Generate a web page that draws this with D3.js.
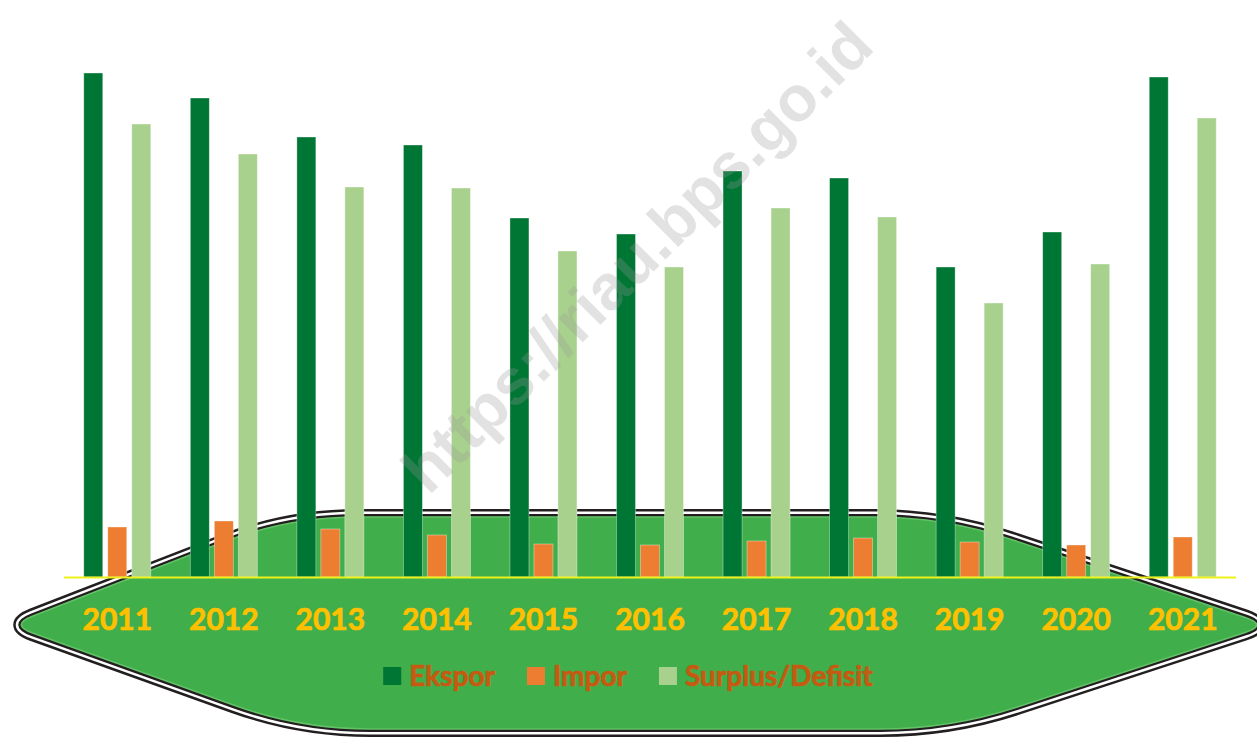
<!DOCTYPE html>
<html>
<head>
<meta charset="utf-8">
<script src="https://cdn.jsdelivr.net/npm/d3@7"></script>
<style>
  html, body { margin: 0; padding: 0; background: #ffffff; }
  svg { display: block; }
</style>
</head>
<body>
<svg id="chart" width="1257" height="738"></svg>
<script>
// ---- data ----
const years   = ["2011","2012","2013","2014","2015","2016","2017","2018","2019","2020","2021"];
const ekspor  = [20.16, 19.16, 17.60, 17.28, 14.36, 13.72, 16.24, 15.96, 12.40, 13.80, 20.00];
const impor   = [2.00, 2.24, 1.92, 1.68, 1.32, 1.28, 1.44, 1.56, 1.40, 1.28, 1.60];
const surplus = [18.12, 16.92, 15.60, 15.56, 13.04, 12.40, 14.76, 14.40, 10.96, 12.52, 18.36];
const seriesNames = ["Ekspor", "Impor", "Surplus/Defisit"];

const W = 1257, H = 738;
const svg = d3.select("#chart");

const colors = d3.scaleOrdinal().domain(seriesNames).range(["#007635", "#ED7D31", "#A9D18E"]);

// ---- decorative background plate (rounded elongated hexagon) ----
function roundedPolygon(pts, radii) {
  const n = pts.length;
  const path = d3.path();
  const cut = (a, b, r) => {
    const dx = b[0] - a[0], dy = b[1] - a[1];
    const len = Math.hypot(dx, dy);
    return [a[0] + dx / len * r, a[1] + dy / len * r];
  };
  for (let i = 0; i < n; i++) {
    const p = pts[i], prev = pts[(i - 1 + n) % n], next = pts[(i + 1) % n];
    const r = radii[i];
    const a = cut(p, prev, r), b = cut(p, next, r);
    if (i === 0) path.moveTo(a[0], a[1]); else path.lineTo(a[0], a[1]);
    path.quadraticCurveTo(p[0], p[1], b[0], b[1]);
  }
  path.closePath();
  return path.toString();
}
const plate = [[10, 625], [288, 517], [944, 517], [1268, 625], [950, 729], [300, 729]];
const plateR = [24, 70, 70, 24, 70, 70];
const plateD = roundedPolygon(plate, plateR);
const bg = svg.append("g").attr("class", "plate");
bg.append("path").attr("d", plateD).attr("fill", "none").attr("stroke", "#231f20").attr("stroke-width", 16).attr("stroke-linejoin", "round");
bg.append("path").attr("d", plateD).attr("fill", "none").attr("stroke", "#ffffff").attr("stroke-width", 11).attr("stroke-linejoin", "round");
bg.append("path").attr("d", plateD).attr("fill", "none").attr("stroke", "#231f20").attr("stroke-width", 6).attr("stroke-linejoin", "round");
bg.append("path").attr("d", plateD).attr("fill", "#40AE4A").attr("stroke", "#62c266").attr("stroke-width", 1.6);

// ---- scales ----
const x0 = d3.scaleBand().domain(years).range([64, 1236]).padding(0);
const bw = x0.bandwidth();
const x1 = d3.scaleBand().domain(seriesNames).range([bw / 2 - 33.5, bw / 2 + 33.5]).paddingInner(5 / 24).paddingOuter(0);
const y = d3.scaleLinear().domain([0, 20]).range([577, 77]);

const table = years.map((yr, i) => ({
  year: yr,
  values: [
    { key: "Ekspor", value: ekspor[i] },
    { key: "Impor", value: impor[i] },
    { key: "Surplus/Defisit", value: surplus[i] }
  ]
}));

// ---- bars ----
const groups = svg.append("g").attr("class", "bars")
  .selectAll("g").data(table).join("g")
  .attr("transform", d => `translate(${x0(d.year)},0)`);

groups.selectAll("rect").data(d => d.values).join("rect")
  .attr("x", d => x1(d.key))
  .attr("width", x1.bandwidth())
  .attr("y", d => y(d.value))
  .attr("height", d => y(0) - y(d.value))
  .attr("fill", d => colors(d.key))
  .attr("stroke", "rgba(255,255,255,0.45)")
  .attr("stroke-width", 0.8);

// ---- baseline ----
svg.append("line")
  .attr("x1", x0.range()[0]).attr("x2", x0.range()[1])
  .attr("y1", y(0) + 0.5).attr("y2", y(0) + 0.5)
  .attr("stroke", "#EEF21A").attr("stroke-width", 2);

// ---- category axis labels ----
const xAxis = d3.axisBottom(x0).tickSize(0).tickPadding(0);
const ax = svg.append("g").attr("transform", `translate(0,${y(0)})`).call(xAxis);
ax.select(".domain").remove();
ax.selectAll("text")
  .attr("dy", null)
  .attr("y", 53)
  .attr("fill", "#FFC000")
  .attr("stroke", "#FFC000")
  .attr("stroke-width", 0.7)
  .style("font-family", "Lato, 'Open Sans', sans-serif")
  .style("font-weight", "bold")
  .style("font-size", "30px");

// ---- legend ----
const legend = svg.append("g").attr("class", "legend");
let lx = 0;
seriesNames.forEach((name, i) => {
  const g = legend.append("g");
  g.append("rect").attr("x", 0).attr("y", -19).attr("width", 18).attr("height", 18).attr("fill", colors(name));
  const t = g.append("text").attr("x", 26).attr("y", 0).text(name)
    .attr("fill", "#C55A11")
    .attr("stroke", "#C55A11")
    .attr("stroke-width", 0.7)
    .style("font-family", "Lato, 'Open Sans', sans-serif")
    .style("font-weight", "bold")
    .style("font-size", "28px");
  const tw = t.node().getComputedTextLength();
  g.attr("transform", `translate(${lx},0)`);
  lx += 26 + tw + 32;
});
const legendW = lx - 32;
legend.attr("transform", `translate(${628 - legendW / 2},686)`);

// ---- watermark ----
svg.append("text")
  .attr("transform", "translate(637,257) rotate(-45)")
  .attr("text-anchor", "middle")
  .attr("dominant-baseline", "central")
  .attr("fill", "rgba(150,150,150,0.28)")
  .style("font-family", "'Liberation Sans', Arial, sans-serif")
  .style("font-weight", "bold")
  .style("font-size", "64px")
  .text("https://riau.bps.go.id");
</script>
</body>
</html>
